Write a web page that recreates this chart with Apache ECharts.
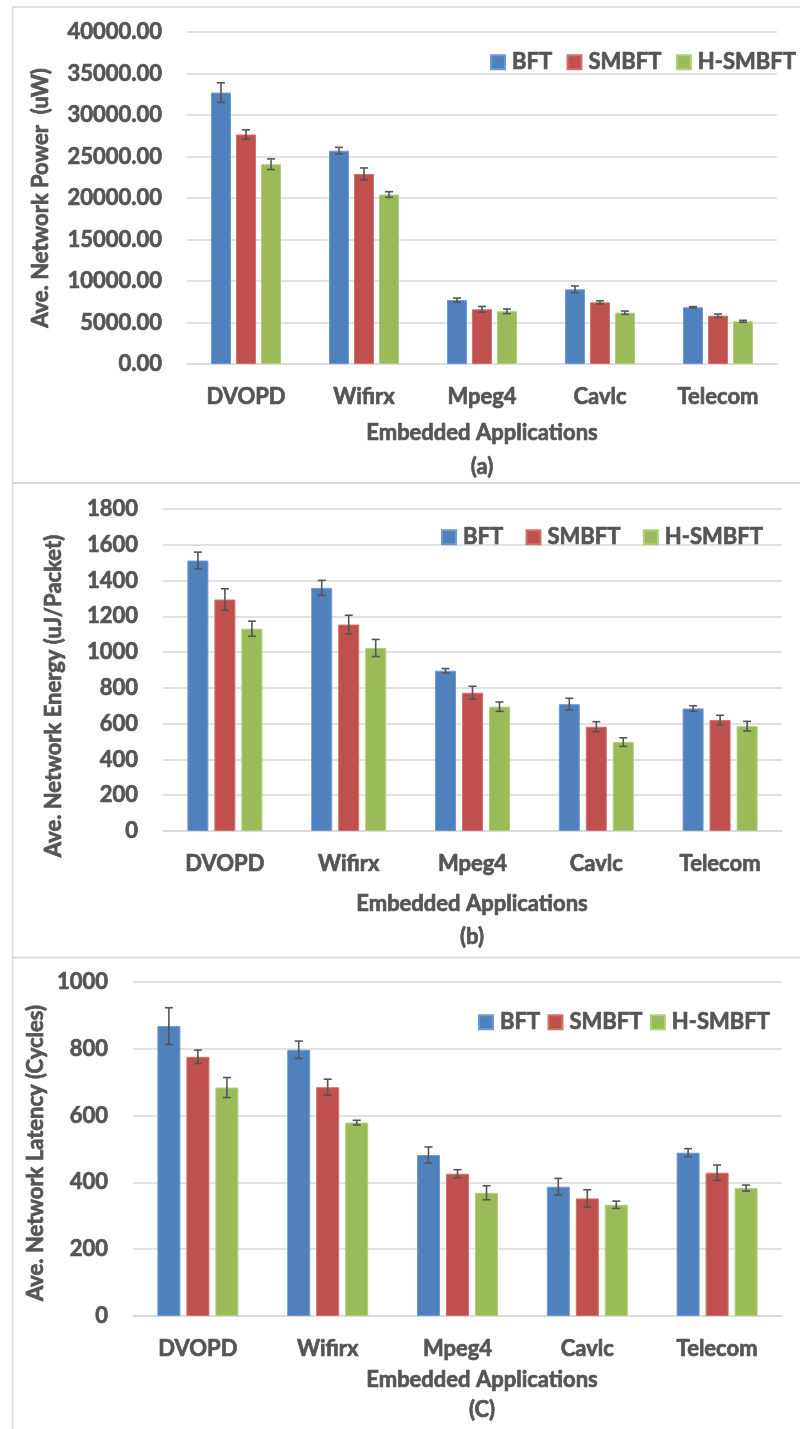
<!DOCTYPE html>
<html>
<head>
<meta charset="utf-8">
<script src="https://cdn.jsdelivr.net/npm/echarts@6/dist/echarts.min.js"></script>
<style>
html,body{margin:0;padding:0;background:#fff;}
#chart{width:800px;height:1429px;}
</style>
</head>
<body>
<div id="chart"></div>
<script>
// ---------- data ----------
const categories = ['DVOPD', 'Wifirx', 'Mpeg4', 'Cavlc', 'Telecom'];
const seriesNames = ['BFT', 'SMBFT', 'H-SMBFT'];

// (a) Average network power (uW)
const powerBFT = [32700, 25700, 7700, 9000, 6830];
const powerSMBFT = [27650, 22900, 6590, 7430, 5820];
const powerHSMBFT = [24070, 20420, 6350, 6180, 5140];
const powerErrBFT = [1180, 400, 240, 400, 80];
const powerErrSMBFT = [570, 720, 340, 180, 200];
const powerErrHSMBFT = [640, 340, 280, 200, 120];

// (b) Average network energy (uJ/Packet)
const energyBFT = [1512, 1359, 896, 709, 685];
const energySMBFT = [1294, 1154, 773, 583, 620];
const energyHSMBFT = [1131, 1023, 695, 497, 586];
const energyErrBFT = [47, 42, 12, 33, 15];
const energyErrSMBFT = [60, 52, 36, 28, 27];
const energyErrHSMBFT = [42, 48, 26, 24, 27];

// (c) Average network latency (cycles)
const latencyBFT = [868, 797, 482, 387, 489];
const latencySMBFT = [776, 685, 426, 352, 429];
const latencyHSMBFT = [684, 579, 369, 333, 383];
const latencyErrBFT = [55, 26, 24, 25, 12];
const latencyErrSMBFT = [20, 24, 12, 26, 23];
const latencyErrHSMBFT = [30, 7, 21, 11, 9];

// tick settings
const powerTicks = {min: 0, max: 40000, interval: 5000};
const energyTicks = {min: 0, max: 1800, interval: 200};
const latencyTicks = {min: 0, max: 1000, interval: 200};

// ---------- styling ----------
const colors = ['#4F81BD', '#C0504D', '#9BBB59'];
const borderColors = ['#6f9ad0', '#d2706d', '#b1cf78'];
const textColor = '#555555';
const gridColor = '#d9d9d9';
const FONT = 'Lato';
const FW = 'bold';
const FS = 22;
const TB = 0.7; // faux-bold stroke width

const panels = [
  {
    vals: [powerBFT, powerSMBFT, powerHSMBFT],
    errs: [powerErrBFT, powerErrSMBFT, powerErrHSMBFT],
    ticks: powerTicks, dec: 2,
    grid: {left: 187, right: 23, top: 32, height: 332},
    barWidth: 20, gap: 5,
    legend: {left: 485, top: 46, itemGap: 14},
    yName: 'Ave. Network Power  (uW)', yNamePos: [41, 198],
    xName: 'Embedded Applications', xNamePos: [482, 433],
    tag: '(a)', tagPos: [482, 467]
  },
  {
    vals: [energyBFT, energySMBFT, energyHSMBFT],
    errs: [energyErrBFT, energyErrSMBFT, energyErrHSMBFT],
    ticks: energyTicks, dec: 0,
    grid: {left: 163, right: 18, top: 509, height: 322},
    barWidth: 21, gap: 6,
    legend: {left: 436, top: 521, itemGap: 22},
    yName: 'Ave. Network Energy (uJ/Packet)', yNamePos: [54, 696],
    xName: 'Embedded Applications', xNamePos: [472, 904],
    tag: '(b)', tagPos: [472, 937]
  },
  {
    vals: [latencyBFT, latencySMBFT, latencyHSMBFT],
    errs: [latencyErrBFT, latencyErrSMBFT, latencyErrHSMBFT],
    ticks: latencyTicks, dec: 0,
    grid: {left: 133, right: 18, top: 982, height: 334},
    barWidth: 23, gap: 6,
    legend: {left: 473, top: 1006, itemGap: 7},
    yName: 'Ave. Network Latency (Cycles)', yNamePos: [36, 1153],
    xName: 'Embedded Applications', xNamePos: [482, 1380],
    tag: '(C)', tagPos: [482, 1410]
  }
];

const grids = [], xAxes = [], yAxes = [], series = [], legends = [], graphics = [];

// panel frames
const frames = [[12.5, 7, 800, 483], [12.5, 483, 800, 957.5], [12.5, 957.5, 800, 1440]];
frames.forEach(f => {
  graphics.push({
    type: 'rect', shape: {x: f[0], y: f[1], width: f[2] - f[0] + 10, height: f[3] - f[1]},
    style: {fill: 'none', stroke: gridColor, lineWidth: 1.5}, silent: true, z: 0
  });
});

const txt = {color: textColor, fontFamily: FONT, fontWeight: FW, fontSize: FS, textBorderColor: textColor, textBorderWidth: TB};

panels.forEach((p, pi) => {
  grids.push(Object.assign({containLabel: false}, p.grid));
  xAxes.push({
    type: 'category', gridIndex: pi, data: categories,
    axisTick: {show: false},
    axisLine: {lineStyle: {color: gridColor, width: 1.5}},
    axisLabel: Object.assign({margin: 22}, txt)
  });
  yAxes.push({
    type: 'value', gridIndex: pi,
    min: p.ticks.min, max: p.ticks.max, interval: p.ticks.interval,
    axisLine: {show: false}, axisTick: {show: false},
    splitLine: {lineStyle: {color: gridColor, width: 1.5}},
    axisLabel: Object.assign({margin: 25, formatter: v => v.toFixed(p.dec)}, txt)
  });
  const step = p.barWidth + p.gap;
  p.vals.forEach((arr, si) => {
    series.push({
      type: 'bar', name: seriesNames[si], xAxisIndex: pi, yAxisIndex: pi,
      data: arr, barWidth: p.barWidth, barGap: (p.gap / p.barWidth * 100) + '%',
      itemStyle: {color: colors[si], borderColor: borderColors[si], borderWidth: 1},
      z: 2
    });
  });
  // error bars
  const errData = [];
  p.vals.forEach((arr, si) => {
    arr.forEach((v, ci) => errData.push([ci, v, p.errs[si][ci], si]));
  });
  series.push({
    type: 'custom', name: 'err' + pi, xAxisIndex: pi, yAxisIndex: pi,
    data: errData, z: 5,
    encode: {x: 0, y: 1},
    renderItem: function (params, api) {
      const ci = api.value(0), v = api.value(1), e = api.value(2), si = api.value(3);
      const off = (si - 1) * step;
      const top = api.coord([ci, v + e]);
      const bot = api.coord([ci, v - e]);
      const x = top[0] + off;
      const cap = 4;
      const st = {stroke: '#555555', lineWidth: 1.6};
      return {
        type: 'group',
        children: [
          {type: 'line', shape: {x1: x, y1: top[1], x2: x, y2: bot[1]}, style: st},
          {type: 'line', shape: {x1: x - cap, y1: top[1], x2: x + cap, y2: top[1]}, style: st},
          {type: 'line', shape: {x1: x - cap, y1: bot[1], x2: x + cap, y2: bot[1]}, style: st}
        ]
      };
    }
  });
  legends.push({
    data: seriesNames, left: p.legend.left, top: p.legend.top, width: 340,
    orient: 'horizontal', icon: 'rect', itemWidth: 14, itemHeight: 14,
    itemGap: p.legend.itemGap, selectedMode: false,
    textStyle: Object.assign({padding: [0, 0, 0, 2]}, txt)
  });
  const gfont = FW + ' ' + FS + 'px ' + FONT;
  graphics.push({
    type: 'text', x: p.yNamePos[0], y: p.yNamePos[1], rotation: Math.PI / 2,
    style: {text: p.yName, fill: textColor, font: gfont, align: 'center', verticalAlign: 'middle', stroke: textColor, lineWidth: TB}
  });
  graphics.push({
    type: 'text', x: p.xNamePos[0], y: p.xNamePos[1],
    style: {text: p.xName, fill: textColor, font: gfont, align: 'center', verticalAlign: 'middle', stroke: textColor, lineWidth: TB}
  });
  graphics.push({
    type: 'text', x: p.tagPos[0], y: p.tagPos[1],
    style: {text: p.tag, fill: textColor, font: gfont, align: 'center', verticalAlign: 'middle', stroke: textColor, lineWidth: TB}
  });
});

const chart = echarts.init(document.getElementById('chart'), null, {renderer: 'canvas'});
chart.setOption({
  animation: false,
  backgroundColor: '#ffffff',
  grid: grids, xAxis: xAxes, yAxis: yAxes,
  legend: legends, series: series, graphic: graphics
});
</script>
</body>
</html>
